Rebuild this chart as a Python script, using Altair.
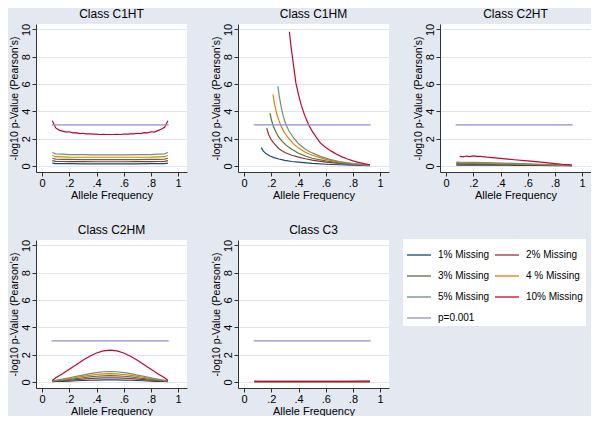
import altair as alt
import pandas as pd

SERIES = ["1% Missing", "2% Missing", "3% Missing", "4 % Missing", "5% Missing", "10% Missing", "p=0.001"]
COLORS = ["#1a476f", "#90353b", "#55752f", "#e37e00", "#6e8e84", "#c10534", "#938dd2"]
# legend is filled column by column (4 rows x 2 columns), so this order shows it row by row
LEGEND_ORDER = [0, 2, 4, 6, 1, 3, 5]

# ---- Class C1HT ----
C1HT_red_x = [0.075, 0.1, 0.125, 0.15, 0.175, 0.2, 0.225, 0.25, 0.275, 0.3, 0.325, 0.35,
              0.375, 0.4, 0.425, 0.45, 0.475, 0.5, 0.525, 0.55, 0.575, 0.6, 0.625, 0.65,
              0.675, 0.7, 0.725, 0.75, 0.775, 0.8, 0.825, 0.85, 0.875, 0.9, 0.925]
C1HT_red = [3.30, 2.78, 2.62, 2.55, 2.47, 2.50, 2.42, 2.44, 2.37, 2.39, 2.34, 2.35,
            2.32, 2.33, 2.30, 2.31, 2.30, 2.30, 2.30, 2.31, 2.30, 2.33, 2.32, 2.35,
            2.34, 2.39, 2.37, 2.44, 2.42, 2.50, 2.47, 2.58, 2.68, 2.82, 3.30]
C1HT_x = [0.075, 0.1, 0.15, 0.2, 0.3, 0.4, 0.5, 0.6, 0.7, 0.8, 0.85, 0.9, 0.925]
C1HT_5 = [0.98, 0.88, 0.86, 0.83, 0.82, 0.81, 0.81, 0.81, 0.82, 0.83, 0.86, 0.88, 0.98]
C1HT_4 = [0.76, 0.67, 0.66, 0.64, 0.63, 0.63, 0.63, 0.63, 0.63, 0.64, 0.66, 0.67, 0.76]
C1HT_3 = [0.56, 0.49, 0.48, 0.47, 0.46, 0.46, 0.46, 0.46, 0.46, 0.47, 0.48, 0.49, 0.56]
C1HT_2 = [0.38, 0.33, 0.32, 0.31, 0.31, 0.30, 0.30, 0.30, 0.31, 0.31, 0.32, 0.33, 0.38]
C1HT_1 = [0.20, 0.17, 0.16, 0.16, 0.15, 0.15, 0.15, 0.15, 0.15, 0.16, 0.16, 0.17, 0.20]

# ---- Class C1HM ----
C1HM_1_x = [0.126, 0.14, 0.16, 0.19, 0.22, 0.255, 0.3, 0.35, 0.4, 0.5, 0.6, 0.7, 0.8, 0.925]
C1HM_1 = [1.34, 1.1, 0.9, 0.72, 0.6, 0.5, 0.4, 0.32, 0.27, 0.18, 0.12, 0.08, 0.05, 0.02]
C1HM_2_x = [0.166, 0.18, 0.2, 0.225, 0.255, 0.3, 0.35, 0.4, 0.45, 0.5, 0.6, 0.7, 0.8, 0.925]
C1HM_2 = [2.77, 2.3, 1.9, 1.6, 1.26, 0.98, 0.78, 0.64, 0.52, 0.42, 0.28, 0.18, 0.1, 0.04]
C1HM_3_x = [0.19, 0.2, 0.215, 0.235, 0.255, 0.28, 0.31, 0.35, 0.4, 0.45, 0.5, 0.6, 0.7, 0.8, 0.925]
C1HM_3 = [3.87, 3.4, 2.9, 2.45, 2.1, 1.8, 1.5, 1.22, 0.92, 0.72, 0.56, 0.36, 0.22, 0.12, 0.04]
C1HM_4_x = [0.212, 0.224, 0.24, 0.255, 0.268, 0.29, 0.32, 0.36, 0.4, 0.45, 0.5, 0.6, 0.7, 0.8, 0.925]
C1HM_4 = [5.23, 4.5, 3.8, 3.35, 3.0, 2.55, 2.1, 1.65, 1.3, 1.0, 0.78, 0.48, 0.28, 0.15, 0.05]
C1HM_5_x = [0.248, 0.26, 0.275, 0.29, 0.309, 0.33, 0.36, 0.4, 0.45, 0.5, 0.56, 0.63, 0.7, 0.8, 0.925]
C1HM_5 = [5.84, 5.0, 4.2, 3.55, 3.0, 2.55, 2.1, 1.62, 1.22, 0.95, 0.7, 0.48, 0.32, 0.17, 0.06]
C1HM_10_x = [0.333, 0.345, 0.36, 0.38, 0.4, 0.42, 0.445, 0.475, 0.5, 0.53, 0.56, 0.6,
             0.64, 0.68, 0.72, 0.76, 0.8, 0.84, 0.88, 0.925]
C1HM_10 = [9.83, 8.7, 7.6, 6.1, 5.2, 4.45, 3.7, 3.0, 2.55, 2.1, 1.68, 1.35,
           1.08, 0.85, 0.66, 0.5, 0.37, 0.26, 0.16, 0.08]

# ---- Class C2HT ----
C2HT_red_x = [0.1, 0.125, 0.15, 0.175, 0.2, 0.225, 0.25, 0.3, 0.4, 0.5, 0.6, 0.7,
              0.8, 0.85, 0.875, 0.9, 0.925]
C2HT_red = [0.70, 0.66, 0.72, 0.68, 0.73, 0.69, 0.70, 0.64, 0.55, 0.45, 0.36, 0.27,
            0.17, 0.12, 0.08, 0.10, 0.04]
C2HT_x = [0.075, 0.1, 0.2, 0.3, 0.4, 0.5, 0.6, 0.7, 0.8, 0.85, 0.925]
C2HT_5 = [0.28, 0.27, 0.26, 0.24, 0.21, 0.18, 0.15, 0.12, 0.09, 0.07, 0.04]
C2HT_4 = [0.23, 0.22, 0.21, 0.19, 0.17, 0.15, 0.12, 0.10, 0.07, 0.06, 0.03]
C2HT_3 = [0.18, 0.17, 0.16, 0.15, 0.13, 0.11, 0.09, 0.07, 0.05, 0.04, 0.03]
C2HT_2 = [0.12, 0.12, 0.11, 0.10, 0.09, 0.08, 0.07, 0.05, 0.04, 0.03, 0.02]
C2HT_1 = [0.06, 0.06, 0.06, 0.05, 0.05, 0.04, 0.04, 0.03, 0.02, 0.02, 0.01]

# ---- Class C2HM ----
C2HM_x = [0.075, 0.1, 0.15, 0.2, 0.25, 0.3, 0.35, 0.4, 0.45, 0.5,
          0.55, 0.6, 0.65, 0.7, 0.75, 0.8, 0.85, 0.9, 0.925]
C2HM_10 = [0.10, 0.30, 0.60, 0.92, 1.25, 1.58, 1.88, 2.12, 2.27, 2.32,
           2.27, 2.12, 1.88, 1.58, 1.25, 0.92, 0.60, 0.30, 0.10]
C2HM_5 = [0.08, 0.12, 0.20, 0.30, 0.40, 0.50, 0.60, 0.68, 0.74, 0.76,
          0.74, 0.68, 0.60, 0.50, 0.40, 0.30, 0.20, 0.12, 0.08]
C2HM_4 = [0.07, 0.10, 0.16, 0.24, 0.32, 0.40, 0.48, 0.54, 0.58, 0.60,
          0.58, 0.54, 0.48, 0.40, 0.32, 0.24, 0.16, 0.10, 0.07]
C2HM_3 = [0.06, 0.08, 0.12, 0.18, 0.24, 0.30, 0.36, 0.41, 0.44, 0.45,
          0.44, 0.41, 0.36, 0.30, 0.24, 0.18, 0.12, 0.08, 0.06]
C2HM_2 = [0.04, 0.05, 0.08, 0.12, 0.16, 0.20, 0.24, 0.27, 0.29, 0.30,
          0.29, 0.27, 0.24, 0.20, 0.16, 0.12, 0.08, 0.05, 0.04]
C2HM_1 = [0.02, 0.03, 0.04, 0.06, 0.08, 0.10, 0.12, 0.13, 0.14, 0.15,
          0.14, 0.13, 0.12, 0.10, 0.08, 0.06, 0.04, 0.03, 0.02]

# ---- Class C3 ----
C3_x = [0.075, 0.1, 0.25, 0.5, 0.75, 0.9, 0.925]
C3_10 = [0.05, 0.04, 0.04, 0.04, 0.04, 0.05, 0.05]
C3_5 = [0.03, 0.03, 0.03, 0.03, 0.03, 0.03, 0.03]
C3_4 = [0.02, 0.02, 0.02, 0.02, 0.02, 0.02, 0.02]
C3_3 = [0.02, 0.02, 0.02, 0.02, 0.02, 0.02, 0.02]
C3_2 = [0.01, 0.01, 0.01, 0.01, 0.01, 0.01, 0.01]
C3_1 = [0.01, 0.01, 0.01, 0.01, 0.01, 0.01, 0.01]

# ---- threshold p = 0.001 ----
P_x = [0.07, 0.93]
P_y = [3.0, 3.0]

CLASSES = ["Class C1HT", "Class C1HM", "Class C2HT", "Class C2HM", "Class C3"]

panels_data = {
    "Class C1HT": [(C1HT_x, C1HT_1), (C1HT_x, C1HT_2), (C1HT_x, C1HT_3), (C1HT_x, C1HT_4),
                   (C1HT_x, C1HT_5), (C1HT_red_x, C1HT_red), (P_x, P_y)],
    "Class C1HM": [(C1HM_1_x, C1HM_1), (C1HM_2_x, C1HM_2), (C1HM_3_x, C1HM_3), (C1HM_4_x, C1HM_4),
                   (C1HM_5_x, C1HM_5), (C1HM_10_x, C1HM_10), (P_x, P_y)],
    "Class C2HT": [(C2HT_x, C2HT_1), (C2HT_x, C2HT_2), (C2HT_x, C2HT_3), (C2HT_x, C2HT_4),
                   (C2HT_x, C2HT_5), (C2HT_red_x, C2HT_red), (P_x, P_y)],
    "Class C2HM": [(C2HM_x, C2HM_1), (C2HM_x, C2HM_2), (C2HM_x, C2HM_3), (C2HM_x, C2HM_4),
                   (C2HM_x, C2HM_5), (C2HM_x, C2HM_10), (P_x, P_y)],
    "Class C3": [(C3_x, C3_1), (C3_x, C3_2), (C3_x, C3_3), (C3_x, C3_4),
                 (C3_x, C3_5), (C3_x, C3_10), (P_x, P_y)],
}

rows = []
for cls in CLASSES:
    for k, (xs, ys) in enumerate(panels_data[cls]):
        for i, (xv, yv) in enumerate(zip(xs, ys)):
            rows.append({"cls": cls, "series": SERIES[k], "k": k, "i": i, "x": xv, "y": yv})
df = pd.DataFrame(rows)

FONT = "Liberation Sans"
X_LABELS = "datum.value == 0 ? '0' : datum.value == 1 ? '1' : replace(format(datum.value, '.1f'), '0.', '.')"


def panel(cls):
    return (
        alt.Chart(df)
        .transform_filter(alt.datum.cls == cls)
        .mark_line(strokeWidth=1.2, clip=True)
        .encode(
            x=alt.X("x:Q",
                    scale=alt.Scale(domain=[-0.045, 1.065], nice=False, zero=False),
                    axis=alt.Axis(values=[0, 0.2, 0.4, 0.6, 0.8, 1], labelExpr=X_LABELS,
                                  title="Allele Frequency", grid=False, labelFlush=False)),
            y=alt.Y("y:Q",
                    scale=alt.Scale(domain=[-0.45, 10.4], nice=False, zero=False),
                    axis=alt.Axis(values=[0, 2, 4, 6, 8, 10], title="-log10 p-Value (Pearson's)",
                                  titleFontSize=10.5,
                                  labelAngle=270, labelAlign="center", labelBaseline="bottom",
                                  grid=True, labelFlush=False)),
            color=alt.Color("series:N",
                            scale=alt.Scale(domain=[SERIES[j] for j in LEGEND_ORDER],
                                            range=[COLORS[j] for j in LEGEND_ORDER]),
                            legend=alt.Legend(title=None, orient="none", legendX=367, legendY=215,
                                              columns=2, symbolType="stroke", symbolSize=576,
                                              symbolStrokeWidth=1.3, labelFontSize=10,
                                              labelFont=FONT, labelColor="black",
                                              fillColor="white", padding=3,
                                              rowPadding=3, columnPadding=2, labelOffset=6)),
            detail="k:O",
            order="i:Q",
        )
        .properties(width=151, height=148,
                    title=alt.TitleParams(cls, fontSize=12, font=FONT, fontWeight="normal",
                                          color="black", offset=2, anchor="middle"))
    )


row1 = alt.hconcat(panel(CLASSES[0]), panel(CLASSES[1]), panel(CLASSES[2]), spacing=23)
row2 = alt.hconcat(panel(CLASSES[3]), panel(CLASSES[4]), spacing=23)

chart = (
    alt.vconcat(row1, row2, spacing=24)
    .properties(padding={"left": 0, "top": 0, "right": 0, "bottom": 0},
                background="#E4E8F0")
    .configure_view(fill="white", stroke=None)
    .configure_axis(domainColor="#333333", tickColor="#333333", tickSize=4,
                    labelFont=FONT, titleFont=FONT, labelFontSize=11, titleFontSize=11,
                    labelColor="black", titleColor="black", titleFontWeight="normal",
                    gridColor="#E1E6EE", gridWidth=1, labelPadding=1, titlePadding=1)
)

chart.save("out.html", embed_options={"renderer": "svg", "actions": False})
